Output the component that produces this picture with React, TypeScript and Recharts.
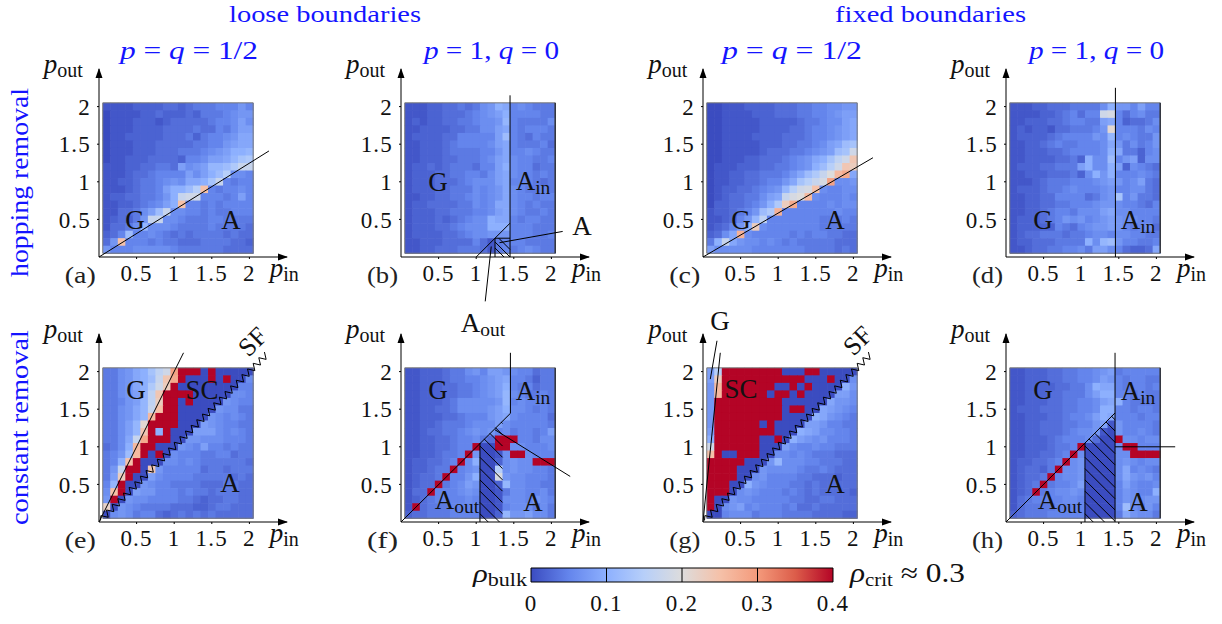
import React from "react"
import { ScatterChart, Scatter, XAxis, YAxis, ReferenceLine, ReferenceArea, ReferenceDot } from "recharts"

// one char per cell, rows run from p_out = 2 down to 0.1, columns from p_in = 0.1 to 2
// base 36 in hundredths of rho, "#" is a cell at the top of the scale
const pIn = [0.1, 0.2, 0.3, 0.4, 0.5, 0.6, 0.7, 0.8, 0.9, 1, 1.1, 1.2, 1.3, 1.4, 1.5, 1.6, 1.7, 1.8, 1.9, 2]
const pOut = [2, 1.9, 1.8, 1.7, 1.6, 1.5, 1.4, 1.3, 1.2, 1.1, 1, 0.9, 0.8, 0.7, 0.6, 0.5, 0.4, 0.3, 0.2, 0.1]

const cellsA = [
  "11112222332344455575", "01111223222324445677", "01112221233333455686", "01112222333343354688",
  "01122222333424556799", "01112223333344557899", "01112223334445678aab", "01122233332556889bde",
  "11122334438678bbcehh", "11123345555868acf665", "1122344567699adh5455", "111234458aacfp545565",
  "122334457ahii5554585", "112234568ap554545555", "1133468ch66554544555", "123247hh665444554444",
  "13346b66654444544443", "235c5565434344443433", "37p55545443334444332", "75556666654444443333",
]
const cellsB = [
  "111223343467a9565444", "1112233345678a555544", "1212233445667b544446", "11222233446689545554",
  "1222233555558c543544", "11222345555689544453", "11222344445579556544", "11222334445689655445",
  "1223234443558a655344", "12223344554689655454", "12223334566689555434", "12223344465679654454",
  "11223344565679655455", "12233334465699654544", "12223344455689654454", "12223234566a99545544",
  "12223345666aaa555444", "12222334566777555445", "11222333353145554444", "11223334443145456544",
]
const cellsC = [
  "00111222233344556677", "00111122233344556788", "00111112222234456689", "00111112222334556789",
  "00111122223334556789", "001111122233445689cd", "00111112333445678cdi", "001112233345679adgio",
  "01112223344567acfion", "0112233444579cehkqs9", "011223345579dfhjt667", "0122334567bfijp65566",
  "0123344689hjkq655565", "02233457aens55556566", "1223457cer5555555655", "112357bg555555544454",
  "12357bn6555555544444", "2369r655555454554433", "4ah97665654544444333", "86666655555554444343",
]
const cellsD = [
  "1112233344446a775855", "111122345355ij535644", "11222334554489523346", "1212213344457l555465",
  "1222234555576b565447", "11223454455569746457", "1122233455556a944256", "1122223342a66c578266",
  "1222334448a66a826543", "11222333426a7a555654", "11123444555678756843", "12223445655567556643",
  "11223355553467d57443", "11223344555677655435", "11223455466689665555", "12223457675678766554",
  "12222254356778754563", "12334443445665665544", "1223334444a6bc755445", "11233445564886532239",
]
const cellsE = [
  "44679adgit###0#00000", "44679achos#000#0#006", "44679aein#0000000055", "44678bgo####00000665",
  "44578bgn##0#00007655", "44679bhp##0000076644", "44679bq###0000765654", "4468bl####0008765544",
  "4468bo#a#00088865654", "4469hs###00776665554", "346aq##0007658554544", "457cq#0#065554455344",
  "45ap#000665654444443", "47h##0o7555553443444", "48n#0086555544444343", "5b#00765544443334433",
  "6p#08775554544344433", "7#076655554432334433", "m0765444433322344333", "06764553234343433333",
]
const cellsF = [
  "11222344675887655344", "11222344556789554244", "1122233445678a545344", "1122233445678b654454",
  "1122234666667b565554", "1122334666678a665454", "11222334555789655553", "11223444566686555554",
  "11233445676756455458", "112233455643###55466", "112233455#00##665556", "11223445#70016##6555",
  "1223345#6a0026766###", "122344#56700f6766554", "12334#557a00j7665554", "1233#45687002b665544",
  "133#5556760014665564", "12345555650016665765", "1#344455550015666464", "2334445555002b778664",
]
const cellsG = [
  "8f########000##00000", "8n###########000#006", "7q#######00#0#0000a7", "7q######0##0#0000886",
  "7#########0000009776", "7#########0##0098765", "7#########0000a97654", "7######0#00008875544",
  "8########000a9866554", "a######00#0a87675554", "i######0008655655444", "p#00###0066565444333",
  "#####0007b6665544433", "####0007666654454333", "####0067555544333233", "###00a76555443433333",
  "###06765554543433332", "#0076655555443344333", "#0678565554533433333", "00566645554444333322",
]
const cellsH = [
  "11222334455678455555", "11222334455687545544", "11222233446a99545545", "112223344468aa554544",
  "11222334455689a54444", "122233344556aa554554", "112223345568a9555455", "11223334455781755554",
  "11223334566710755654", "11222345556300#66566", "112223445#00006##555", "11223345#6000066####",
  "1223345#670000676566", "123324#6670000695654", "12334#56670000697675", "1234#455680000586556",
  "123#456676000057655a", "13455556650000576677", "134444555500005c6575", "23444555550000497664",
]

// annotation lines in data coordinates, [x1, y1, x2, y2]
const linesA = [[0, 0, 2.26, 1.41]]
const linesB = [[1, 0, 1.45, 0.45], [1.45, 0.45, 1.45, 2.15], [1.45, 0, 1.45, 0.45], [1.25, 0, 1.25, 0.25], [1.25, 0.25, 1.45, 0.25], [1.31, 0.19, 2.15, 0.34], [1.12, -0.59, 1.2, 0.14], [1.25, 0.2, 1.45, 0], [1.25, 0.12, 1.37, 0], [1.3, 0.25, 1.45, 0.1]]
const linesC = [[0, 0, 2.26, 1.32]]
const linesD = [[1.455, 0, 1.455, 2.25]]
const linesE = [[0, 0, 1.124, 2.25]]
const linesF = [[0, 0, 1.455, 1.445], [1.455, 1.445, 1.455, 2.25], [1.25, 1.226, 2.25, 0.606]]
const linesG = [[0, 0, 0.23, 2.25], [0.186, 2.41, 0.097, 1.9]]
const linesH = [[0, 0, 1.45, 1.45], [1.45, 0, 1.45, 2.25], [1.45, 1, 2.25, 1]]

const axisTicks = [0.5, 1, 1.5, 2]
const colorTicks = [0, 0.1, 0.2, 0.3, 0.4]
const coolwarm = ["#3b4cc0", "#6485ec", "#8db0fe", "#b7cff9", "#dddcdc", "#f5c1a9", "#f49a7b", "#dc5d4a", "#b40426"]

const serif = "'Liberation Serif', serif"
const UNIT = 188 / 2.5
const CELL = 0.1 * UNIT
const chartBox = { width: 340, height: 320, margin: { top: 60, left: 0, right: 92, bottom: 42 } }
const noMark = () => null

function rhoColor(rho: number) {
  const t = Math.min(rho / 0.4, 1) * (coolwarm.length - 1)
  const i = Math.min(Math.floor(t), coolwarm.length - 2)
  const f = t - i
  const pa = parseInt(coolwarm[i].slice(1), 16)
  const pb = parseInt(coolwarm[i + 1].slice(1), 16)
  const ch = (s: number) => Math.round(((pa >> s) & 255) * (1 - f) + ((pb >> s) & 255) * f)
  return `rgb(${ch(16)},${ch(8)},${ch(0)})`
}

function toPoints(rows: string[]) {
  return rows.flatMap((row, r) =>
    [...row].map((ch, c) => ({ x: pIn[c], y: pOut[r], rho: ch === "#" ? 0.4 : parseInt(ch, 36) / 100 }))
  )
}

const HeatCell = (props: any) => (
  <rect
    x={props.cx - CELL / 2}
    y={props.cy - CELL / 2}
    width={CELL + 0.6}
    height={CELL + 0.6}
    fill={rhoColor(props.payload.rho)}
  />
)

const ArrowRight = (props: any) => (
  <path d={`M${props.cx + 1},${props.cy} l-10,-3.5 l0,7 z`} fill="#000" />
)
const ArrowUp = (props: any) => (
  <path d={`M${props.cx},${props.cy - 1} l-3.5,10 l7,0 z`} fill="#000" />
)

function hatchSegments(x1: number, x2: number) {
  const out: number[][] = []
  for (let c = 1.16; c < x2 * 2; c += 0.15) {
    const a = Math.max(x1, c / 2)
    const b = Math.min(x2, c)
    if (a < b) out.push([a, c - a, b, c - b])
  }
  return out
}

function zigzagSegments(end: number) {
  const out: number[][] = []
  let prev = [0.02, 0.02]
  let i = 1
  for (let t = 0.055; t < end; t += 0.0375, i++) {
    const d = i % 2 ? 0.03 : -0.03
    const next = [t - d, t + d]
    out.push([prev[0], prev[1], next[0], next[1]])
    prev = next
  }
  return out
}

type PanelProps = {
  ox: number
  oy: number
  cells: string[]
  lines: number[][]
  hatch?: number[]
  zigzag?: boolean
  edge?: boolean
}

// the heat cells sit in one chart, axes and annotation lines in a second one on top of it
function Panel({ ox, oy, cells, lines, hatch, zigzag, edge }: PanelProps) {
  const extra = [
    ...lines,
    ...(hatch ? hatchSegments(hatch[0], hatch[1]) : []),
    ...(hatch ? [[hatch[0], 0, hatch[0], hatch[0]]] : []),
    ...(zigzag ? zigzagSegments(2.26) : []),
  ]
  const tickStyle = { fontFamily: serif, fontSize: 23, fill: "#111", letterSpacing: 1.2 }
  return (
    <>
      <div style={{ position: "absolute", left: ox - 60, top: oy - 248 }}>
        <ScatterChart {...chartBox}>
          <XAxis type="number" dataKey="x" domain={[0, 2.5]} height={30} tick={false} tickLine={false} axisLine={false} />
          <YAxis type="number" dataKey="y" domain={[0, 2.5]} width={60} tick={false} tickLine={false} axisLine={false} />
          <Scatter data={toPoints(cells)} shape={HeatCell} isAnimationActive={false} />
        </ScatterChart>
      </div>
      <div style={{ position: "absolute", left: ox - 60, top: oy - 248 }}>
        <ScatterChart {...chartBox} style={{ overflow: "visible" }}>
          <XAxis
            type="number"
            dataKey="x"
            domain={[0, 2.5]}
            ticks={axisTicks}
            interval={0}
            height={30}
            tickSize={2}
            tickMargin={6}
            stroke="#000"
            tick={tickStyle}
          />
          <YAxis
            type="number"
            dataKey="y"
            domain={[0, 2.5]}
            ticks={axisTicks}
            interval={0}
            width={60}
            tickSize={2}
            tickMargin={6}
            stroke="#000"
            tick={tickStyle}
          />
          <Scatter data={axisTicks.map((t) => ({ x: t, y: t }))} shape={noMark} isAnimationActive={false} />
          <ReferenceArea x1={0.05} x2={2.05} y1={0.05} y2={2.05} fill="none" stroke="#777" strokeWidth={1} ifOverflow="visible" />
          {edge && <ReferenceLine segment={[{ x: 2.05, y: 0.05 }, { x: 2.05, y: 2.05 }]} stroke="#111" strokeWidth={1} ifOverflow="visible" />}
          {extra.map((s, i) => (
            <ReferenceLine
              key={i}
              segment={[{ x: s[0], y: s[1] }, { x: s[2], y: s[3] }]}
              stroke="#000"
              strokeWidth={1}
              ifOverflow="visible"
            />
          ))}
          <ReferenceDot x={2.5} y={0} shape={ArrowRight} ifOverflow="visible" />
          <ReferenceDot x={0} y={2.5} shape={ArrowUp} ifOverflow="visible" />
        </ScatterChart>
      </div>
    </>
  )
}

function ColorBar() {
  return (
    <div style={{ position: "absolute", left: 501, top: 558 }}>
      <ScatterChart width={362} height={66} margin={{ top: 10, left: 30, right: 30, bottom: 0 }}>
        <defs>
          <linearGradient id="rhoGrad" x1="0" x2="1" y1="0" y2="0">
            {coolwarm.map((c, i) => (
              <stop key={c} offset={i / (coolwarm.length - 1)} stopColor={c} />
            ))}
          </linearGradient>
        </defs>
        <XAxis
          type="number"
          dataKey="x"
          domain={[0, 0.4]}
          ticks={colorTicks}
          interval={0}
          height={42}
          tickSize={0}
          tickMargin={13}
          axisLine={false}
          tick={{ fontFamily: serif, fontSize: 23, fill: "#111", letterSpacing: 1.2 }}
        />
        <YAxis type="number" dataKey="y" domain={[0, 1]} hide />
        <Scatter data={colorTicks.map((t) => ({ x: t, y: 0.5 }))} shape={noMark} isAnimationActive={false} />
        <ReferenceArea x1={0} x2={0.4} y1={0} y2={1} fill="url(#rhoGrad)" fillOpacity={1} stroke="#000" strokeWidth={1} />
        {colorTicks.slice(1, 4).map((t) => (
          <ReferenceLine key={t} x={t} stroke="#000" strokeWidth={1} />
        ))}
      </ScatterChart>
    </div>
  )
}

const blue = "#1414ff"

function Sub({ x, y, base, sub, anchor = "middle", size = 27 }: any) {
  return (
    <text x={x} y={y} textAnchor={anchor} fontFamily={serif} fontSize={size} fill="#111">
      {base}
      {sub && <tspan dy={4} fontSize={size * 0.72}>{sub}</tspan>}
    </text>
  )
}

function PLabel({ x, y, sub }: any) {
  return (
    <text x={x} y={y} fontFamily={serif} fontSize={27} fill="#111">
      <tspan fontStyle="italic">p</tspan>
      <tspan dy={4} fontSize={20}>{sub}</tspan>
    </text>
  )
}

function Title({ x, w, half }: any) {
  return (
    <text x={x} y={59} fontFamily={serif} fontSize={25} fill={blue} textLength={w} lengthAdjust="spacingAndGlyphs">
      <tspan fontStyle="italic">p</tspan>
      {half ? (
        <>
          <tspan> = </tspan>
          <tspan fontStyle="italic">q</tspan>
          <tspan> = 1/2</tspan>
        </>
      ) : (
        <>
          <tspan> = 1, </tspan>
          <tspan fontStyle="italic">q</tspan>
          <tspan> = 0</tspan>
        </>
      )}
    </text>
  )
}

const origins = [98.7, 401, 703.3, 1006]
const rowY = [257, 521.7]
const panelLetters = ["(a)", "(b)", "(c)", "(d)", "(e)", "(f)", "(g)", "(h)"]

export default function App() {
  return (
    <div style={{ position: "absolute", left: 0, top: 0, width: 1222, height: 624, background: "#fff", overflow: "hidden" }}>
      <Panel ox={origins[0]} oy={rowY[0]} cells={cellsA} lines={linesA} />
      <Panel ox={origins[1]} oy={rowY[0]} cells={cellsB} lines={linesB} edge />
      <Panel ox={origins[2]} oy={rowY[0]} cells={cellsC} lines={linesC} />
      <Panel ox={origins[3]} oy={rowY[0]} cells={cellsD} lines={linesD} edge />
      <Panel ox={origins[0]} oy={rowY[1]} cells={cellsE} lines={linesE} zigzag />
      <Panel ox={origins[1]} oy={rowY[1]} cells={cellsF} lines={linesF} hatch={[1.05, 1.35]} edge />
      <Panel ox={origins[2]} oy={rowY[1]} cells={cellsG} lines={linesG} zigzag />
      <Panel ox={origins[3]} oy={rowY[1]} cells={cellsH} lines={linesH} hatch={[1.05, 1.45]} edge />
      <ColorBar />
      <svg width={1222} height={624} style={{ position: "absolute", left: 0, top: 0, pointerEvents: "none" }}>
        <text x={229} y={22} fontFamily={serif} fontSize={24} fill={blue} textLength={192} lengthAdjust="spacingAndGlyphs">loose boundaries</text>
        <text x={835} y={22} fontFamily={serif} fontSize={24} fill={blue} textLength={191} lengthAdjust="spacingAndGlyphs">fixed boundaries</text>
        <Title x={120} w={138} half />
        <Title x={424} w={135} />
        <Title x={722} w={140} half />
        <Title x={1029} w={135} />
        <text transform="translate(28,277) rotate(-90)" fontFamily={serif} fontSize={26} fill={blue} textLength={189} lengthAdjust="spacingAndGlyphs">hopping removal</text>
        <text transform="translate(28,525) rotate(-90)" fontFamily={serif} fontSize={26} fill={blue} textLength={195} lengthAdjust="spacingAndGlyphs">constant removal</text>

        {rowY.flatMap((oy, r) =>
          origins.map((ox, c) => (
            <g key={`${r}-${c}`}>
              <PLabel x={ox - 55} y={oy - 184} sub="out" />
              <PLabel x={ox + 171} y={oy + 20} sub="in" />
              <text x={ox - 34} y={oy + 26} fontFamily={serif} fontSize={24} fill="#222" textLength={31} lengthAdjust="spacingAndGlyphs">{panelLetters[r * 4 + c]}</text>
            </g>
          ))
        )}

        <Sub x={135} y={229} base="G" />
        <Sub x={231} y={229} base="A" />
        <Sub x={438} y={191} base="G" />
        <Sub x={533} y={190} base="A" sub="in" />
        <Sub x={582} y={235} base="A" />
        <Sub x={483} y={332} base="A" sub="out" />
        <Sub x={741} y={229} base="G" />
        <Sub x={835} y={229} base="A" />
        <Sub x={1043} y={229} base="G" />
        <Sub x={1138} y={229} base="A" sub="in" />
        <Sub x={136} y={399} base="G" />
        <Sub x={202} y={399} base="SC" />
        <Sub x={230} y={492} base="A" />
        <text transform="translate(253,342) rotate(-45)" textAnchor="middle" y={8} fontFamily={serif} fontSize={26} fill="#111">SF</text>
        <Sub x={438} y={399} base="G" />
        <Sub x={533} y={400} base="A" sub="in" />
        <Sub x={457} y={509} base="A" sub="out" />
        <Sub x={533} y={511} base="A" />
        <Sub x={720} y={330} base="G" />
        <Sub x={741} y={398} base="SC" />
        <Sub x={835} y={493} base="A" />
        <text transform="translate(858,341) rotate(-45)" textAnchor="middle" y={8} fontFamily={serif} fontSize={26} fill="#111">SF</text>
        <Sub x={1043} y={399} base="G" />
        <Sub x={1138} y={400} base="A" sub="in" />
        <Sub x={1060} y={509} base="A" sub="out" />
        <Sub x={1138} y={511} base="A" />

        <text x={473} y={582} fontFamily={serif} fontSize={25} fill="#111" textLength={54} lengthAdjust="spacingAndGlyphs">
          <tspan fontStyle="italic">ρ</tspan>
          <tspan dy={4} fontSize={18}>bulk</tspan>
        </text>
        <text x={850} y={582} fontFamily={serif} fontSize={27} fill="#111" textLength={115} lengthAdjust="spacingAndGlyphs">
          <tspan fontStyle="italic">ρ</tspan>
          <tspan dy={4} fontSize={18}>crit</tspan>
          <tspan dy={-4}> ≈ 0.3</tspan>
        </text>
      </svg>
    </div>
  )
}
